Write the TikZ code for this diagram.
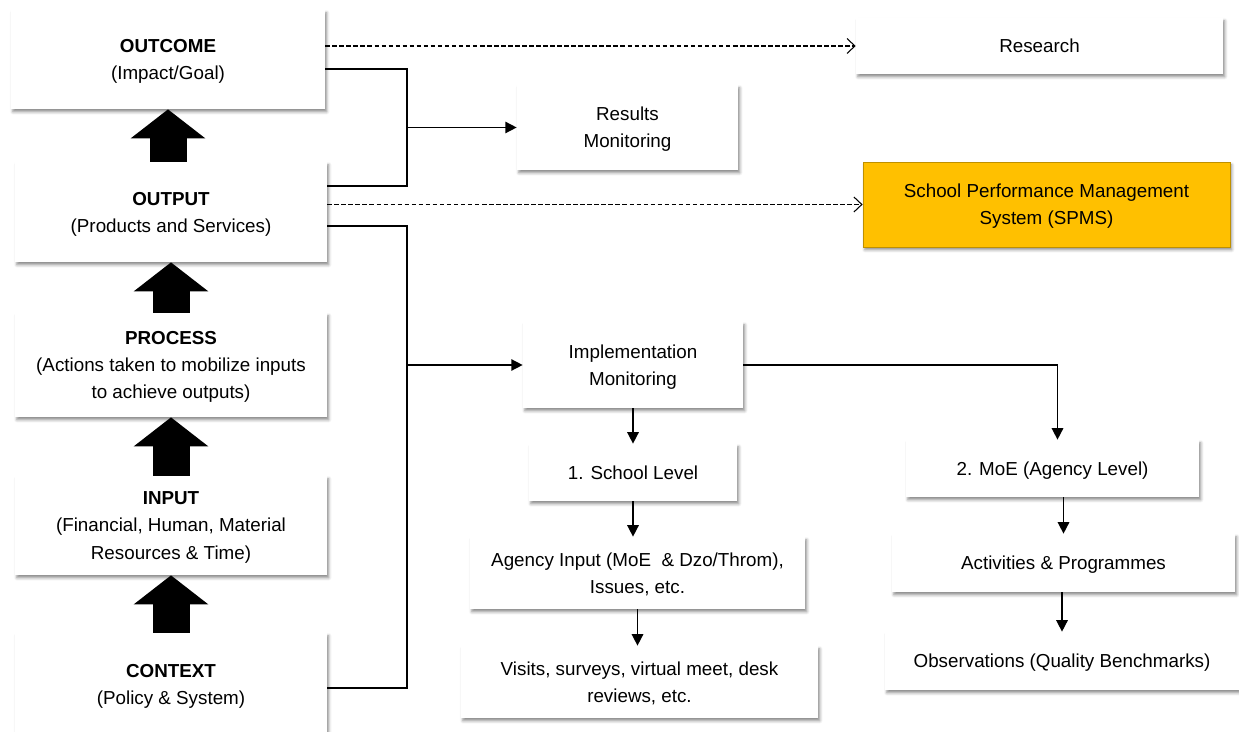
\documentclass[tikz,border=0pt]{standalone}
\usepackage{fontspec}
\setmainfont{Liberation Sans}
\usepackage{tikz}
\usetikzlibrary{positioning, arrows.meta, shadows.blur}

\definecolor{spmsfill}{HTML}{FFC000}
\definecolor{spmsline}{HTML}{BF9000}

\begin{document}
\begin{tikzpicture}[
                x=0.02cm, y=-0.02cm,
                box/.style={
                    rectangle,
                    fill=white,
                    inner sep=0,
                    align=center,
                    text depth=0pt,
                    font=\fontsize{10.7}{15.4}\selectfont,
                    blur shadow={shadow xshift=1pt, shadow yshift=-1.6pt,
                        shadow blur radius=1.6pt, shadow opacity=45}
                },
                conn/.style={line width=0.85pt},
                arr/.style={conn, -{Triangle[length=6.5pt, width=6.5pt]}},
                dashlink/.style={line width=0.6pt, dash pattern=on 2.6pt off 1.4pt,
                    -{Straight Barb[length=4.5pt, width=8.5pt]}},
                blockup/.style={line width=0.74cm,
                    -{Triangle[length=0.58cm, width=1.46cm]}}
            ]
            \useasboundingbox (0,0) rectangle (1239,732);

            % left column: results chain
            \node[box, minimum width=6.28cm, minimum height=1.98cm] (outcome) at (168,59.5)
                {\textbf{OUTCOME}\\(Impact/Goal)};
            \node[box, minimum width=6.24cm, minimum height=2.0cm] (output) at (171,212)
                {\textbf{OUTPUT}\\(Products and Services)};
            \node[box, minimum width=6.24cm, minimum height=2.08cm] (process) at (171,365)
                {\textbf{PROCESS}\\(Actions taken to mobilize inputs\\to achieve outputs)};
            \node[box, minimum width=6.24cm, minimum height=1.98cm] (input) at (171,525.5)
                {\textbf{INPUT}\\(Financial, Human, Material\\Resources \& Time)};
            \node[box, minimum width=6.24cm, minimum height=2.04cm] (context) at (171,684)
                {\textbf{CONTEXT}\\(Policy \& System)};

            % monitoring boxes
            \node[box, minimum width=7.34cm, minimum height=1.12cm] (research) at (1039.5,46) {Research};
            \node[box, minimum width=4.42cm, minimum height=1.7cm] (results) at (627.5,127.5)
                {Results\\Monitoring};
            \node[box, fill=spmsfill, draw=spmsline, line width=0.5pt,
                minimum width=7.34cm, minimum height=1.7cm] (spms) at (1046.5,204.5)
                {School Performance Management\\System (SPMS)};
            \node[box, minimum width=4.4cm, minimum height=1.72cm] (impl) at (633,365)
                {Implementation\\Monitoring};
            \node[box, minimum width=4.16cm, minimum height=1.14cm] (school) at (633,472.5)
                {1. School Level};
            \node[box, minimum width=6.7cm, minimum height=1.44cm] (agency) at (637.5,573)
                {Agency Input (MoE \ \& Dzo/Throm),\\Issues, etc.};
            \node[box, minimum width=7.14cm, minimum height=1.44cm] (visits) at (639.5,682)
                {Visits, surveys, virtual meet, desk\\reviews, etc.};
            \node[box, minimum width=5.86cm, minimum height=1.14cm] (moe) at (1052.5,468.5)
                {2. MoE (Agency Level)};
            \node[box, minimum width=6.86cm, minimum height=1.16cm] (activities) at (1063.5,563)
                {Activities \& Programmes};
            \node[box, minimum width=7.08cm, minimum height=1.16cm] (observations) at (1062,661)
                {Observations (Quality Benchmarks)};

            % block arrows up the chain
            \draw[blockup] (outcome.south |- output.north) -- (outcome.south);
            \draw[blockup] (output.south |- process.north) -- (output.south);
            \draw[blockup] (process.south |- input.north) -- (process.south);
            \draw[blockup] (input.south |- context.north) -- (input.south);

            % dashed links
            \draw[dashlink] (outcome.east |- research.west) -- (research.west);
            \draw[dashlink] (output.east |- spms.west) -- (spms.west);

            % bracket to results monitoring
            \coordinate (r1) at (407,69);
            \coordinate (r2) at (407,186);
            \coordinate (jr) at (407,127.5);
            \draw[conn] (outcome.east |- r1) -- (r1) -- (r2) -- (output.east |- r2);
            \draw[arr] (jr) -- (results.west);

            % bracket to implementation monitoring
            \coordinate (i1) at (407,226);
            \coordinate (i2) at (407,688);
            \coordinate (ji) at (407,365);
            \draw[conn] (output.east |- i1) -- (i1) -- (i2) -- (context.east |- i2);
            \draw[arr] (ji) -- (impl.west);

            % implementation branches
            \draw[arr] (impl.south) -- (school.north);
            \draw[arr] (school.south) -- (school.south |- agency.north);
            \draw[arr] (agency.south) -- (agency.south |- visits.north);
            \draw[arr] (impl.east) -| ([xshift=0.1cm]moe.north);
            \draw[arr] (moe.south -| activities.north) -- (activities.north);
            \draw[arr] (activities.south -| observations.north) -- (observations.north);
            \end{tikzpicture}
\end{document}
